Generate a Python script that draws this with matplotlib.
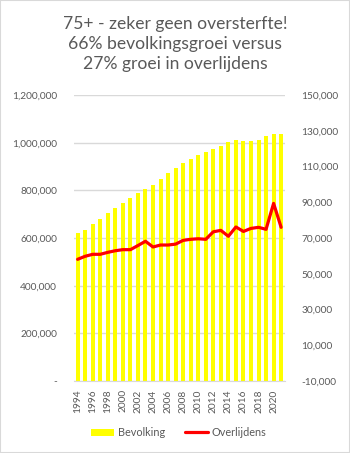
import matplotlib
matplotlib.use("Agg")
import matplotlib.pyplot as plt
from matplotlib.patches import Rectangle
from matplotlib.ticker import FuncFormatter

# 75+ population vs deaths per year
years = list(range(1994, 2022))
bevolking = [621000, 634000, 659000, 680000, 705000, 727000, 747000, 769000,
             789000, 806000, 822000, 848000, 873000, 894000, 915000, 931000,
             948000, 961000, 974000, 986000, 1003000, 1011000, 1007000, 1007000,
             1011000, 1028000, 1036000, 1036000]
overlijdens = [58100, 59800, 60900, 60900, 62000, 62900, 63500, 63500,
               65800, 68200, 65000, 66100, 66100, 66600, 68700, 69300,
               69600, 69300, 73500, 74300, 71000, 76200, 73700, 75400,
               76000, 74900, 89400, 76000]

title = "75+ - zeker geen oversterfte!\n66% bevolkingsgroei versus\n27% groei in overlijdens"
grey = "#595959"

plt.rcParams['font.family'] = ['Lato', 'DejaVu Sans']

fig = plt.figure(figsize=(3.5, 4.53), dpi=100)
ax = fig.add_axes([0.211, 0.159, 0.603, 0.631])
ax2 = ax.twinx()

x = list(range(len(years)))
ax.bar(x, bevolking, width=0.53, color="#FFFF00", label="Bevolking", zorder=2)
ax2.plot(x, overlijdens, color="#FF0000", lw=2.3, label="Overlijdens",
         solid_joinstyle="round", solid_capstyle="round")

ax.set_xlim(-0.5, len(years) - 0.5)
ax.set_ylim(0, 1200000)
ax.set_yticks(range(0, 1200001, 200000))
ax2.set_ylim(-10000, 150000)
ax2.set_yticks(range(-10000, 150001, 20000))

acc = lambda v, p: "-" if v == 0 else f"{int(v):,}"
ax.yaxis.set_major_formatter(FuncFormatter(acc))
ax2.yaxis.set_major_formatter(FuncFormatter(lambda v, p: f"{int(v):,}"))

ax.set_xticks(x[::2])
ax.set_xticklabels([str(y) for y in years[::2]], rotation=90)

ax.grid(axis="y", color="#D9D9D9", lw=1, zorder=0)
ax.set_axisbelow(True)
for a in (ax, ax2):
    for s in a.spines.values():
        s.set_visible(False)
    a.tick_params(length=0, colors=grey, labelsize=7.3)
ax.spines["bottom"].set_visible(True)
ax.spines["bottom"].set_color("#D9D9D9")
ax.tick_params(axis="x", pad=6)
ax.tick_params(axis="y", pad=12)
ax2.tick_params(axis="y", pad=12)

fig.text(0.5, 0.903, title, ha="center", va="center", fontsize=12.6,
         color=grey, linespacing=1.31)

h1, l1 = ax.get_legend_handles_labels()
h2, l2 = ax2.get_legend_handles_labels()
fig.legend(h1 + h2, l1 + l2, loc="center", bbox_to_anchor=(0.51, 0.045),
           ncol=2, frameon=False, fontsize=7.8, labelcolor=grey,
           handlelength=2.2, handleheight=0.7, columnspacing=1.8,
           handletextpad=0.3)

fig.patches.append(Rectangle((0, 0), 1, 1, transform=fig.transFigure,
                             fill=False, ec="#D9D9D9", lw=1.5))

fig.savefig("out.png", dpi=100)
